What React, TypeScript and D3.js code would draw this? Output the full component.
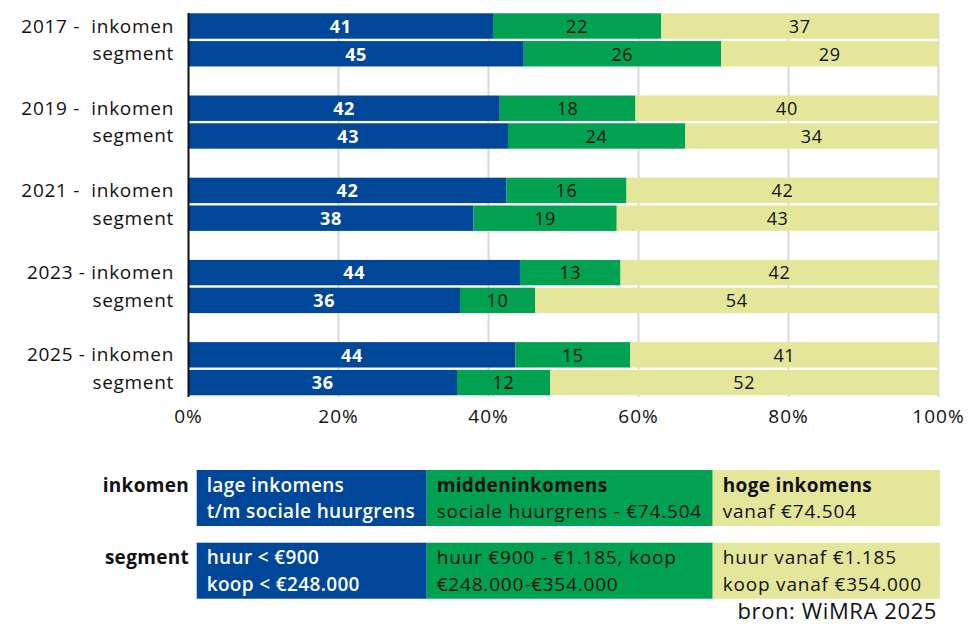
import React from 'react';
import * as d3 from 'd3';

const years = ['2017', '2019', '2021', '2023', '2025'];
const inkomenLabels = ['2017 -  inkomen', '2019 -  inkomen', '2021 -  inkomen', '2023 - inkomen', '2025 - inkomen'];
const segmentLabel = 'segment';
const rowKinds = ['inkomen', 'segment'];

const lageInkomen = [40.6, 41.5, 42.4, 44.2, 43.6];
const middenInkomen = [22.4, 18.1, 16.0, 13.4, 15.3];
const hogeInkomen = [37.0, 40.4, 41.6, 42.4, 41.1];
const lageSegment = [44.7, 42.6, 38.0, 36.2, 35.8];
const middenSegment = [26.3, 23.6, 19.1, 10.0, 12.4];
const hogeSegment = [29.0, 33.8, 42.9, 53.8, 51.8];

const xTicks = [0, 20, 40, 60, 80, 100];

const legendRows = [
  {
    label: 'inkomen',
    cells: [
      ['lage inkomens', 't/m sociale huurgrens'],
      ['middeninkomens', 'sociale huurgrens - €74.504'],
      ['hoge inkomens', 'vanaf €74.504'],
    ],
    boldFirst: true,
  },
  {
    label: 'segment',
    cells: [
      ['huur < €900', 'koop < €248.000'],
      ['huur €900 - €1.185, koop', '€248.000-€354.000'],
      ['huur vanaf €1.185', 'koop vanaf €354.000'],
    ],
    boldFirst: false,
  },
];

const COLORS = ['#00479A', '#00A151', '#E4E799'];
const TEXT_COLORS = ['#ffffff', '#111111', '#111111'];
const FONT = "'Open Sans', 'Noto Sans', sans-serif";

export default function App() {
  const W = 969;
  const H = 624;
  const x = d3.scaleLinear().domain([0, 100]).range([188.5, 938.5]);
  const yGroup = d3.scaleBand<string>().domain(years).range([13.3, 395.3]).paddingInner(0.353).paddingOuter(0);
  const ySub = d3.scaleBand<string>().domain(rowKinds).range([0, yGroup.bandwidth()]).paddingInner(0.085);

  const rows: { year: string; kind: string; vals: number[]; label: string; y: number }[] = [];
  years.forEach((yr, i) => {
    rows.push({ year: yr, kind: 'inkomen', vals: [lageInkomen[i], middenInkomen[i], hogeInkomen[i]], label: inkomenLabels[i], y: (yGroup(yr) || 0) + (ySub('inkomen') || 0) });
    rows.push({ year: yr, kind: 'segment', vals: [lageSegment[i], middenSegment[i], hogeSegment[i]], label: segmentLabel, y: (yGroup(yr) || 0) + (ySub('segment') || 0) });
  });
  const bh = ySub.bandwidth();

  const legendX = [196.7, 426.7, 712.7, 940];
  const legendY = [470, 542.7];
  const legendH = 56;

  return (
    <svg width={W} height={H} style={{ position: 'absolute', left: 0, top: 0, background: '#fff' }} fontFamily={FONT}>
      {xTicks.slice(1).map((t) => (
        <line key={t} x1={x(t)} x2={x(t)} y1={13} y2={397} stroke="#D9D9D9" strokeWidth={2} />
      ))}
      {rows.map((r, ri) => {
        let acc = 0;
        return (
          <g key={ri}>
            {r.vals.map((v, si) => {
              const x0 = x(acc);
              acc += v;
              const x1 = x(acc);
              return (
                <g key={si}>
                  <rect x={x0} y={r.y} width={x1 - x0} height={bh} fill={COLORS[si]} />
                  <text
                    x={(x0 + x1) / 2}
                    y={r.y + bh / 2 + 6.8}
                    textAnchor="middle"
                    fontSize={18}
                    letterSpacing={0.6}
                    fontWeight={si === 0 ? 700 : 400}
                    fill={TEXT_COLORS[si]}
                  >
                    {Math.round(v)}
                  </text>
                </g>
              );
            })}
            <text x={174} y={r.y + bh / 2 + 6.5} textAnchor="end" fontSize={19} letterSpacing={0.7} fill="#111" style={{ whiteSpace: 'pre' }}>
              {r.label}
            </text>
          </g>
        );
      })}
      <line x1={x(0)} x2={x(0)} y1={13} y2={397} stroke="#111" strokeWidth={2} />
      {xTicks.map((t) => (
        <text key={t} x={x(t)} y={423} textAnchor="middle" fontSize={19} letterSpacing={1} fill="#111">
          {t}%
        </text>
      ))}
      {legendRows.map((lr, li) => (
        <g key={li}>
          <text x={189} y={legendY[li] + 21.5} textAnchor="end" fontSize={19} letterSpacing={0.3} fontWeight={700} fill="#111">
            {lr.label}
          </text>
          {lr.cells.map((cell, ci) => (
            <g key={ci}>
              <rect x={legendX[ci]} y={legendY[li]} width={legendX[ci + 1] - legendX[ci]} height={legendH} fill={COLORS[ci]} />
              {cell.map((line, k) => {
                const bold = ci === 0 || (lr.boldFirst && k === 0);
                return (
                  <text
                    key={k}
                    x={legendX[ci] + 10}
                    y={legendY[li] + 21.5 + k * 26.7}
                    fontSize={19}
                    letterSpacing={bold ? 0.35 : 0.8}
                    fontWeight={ci === 0 ? 600 : bold ? 700 : 400}
                    fill={TEXT_COLORS[ci]}
                  >
                    {line}
                  </text>
                );
              })}
            </g>
          ))}
        </g>
      ))}
      <text x={937} y={619} textAnchor="end" fontSize={22} letterSpacing={0.6} fill="#111">
        bron: WiMRA 2025
      </text>
    </svg>
  );
}
